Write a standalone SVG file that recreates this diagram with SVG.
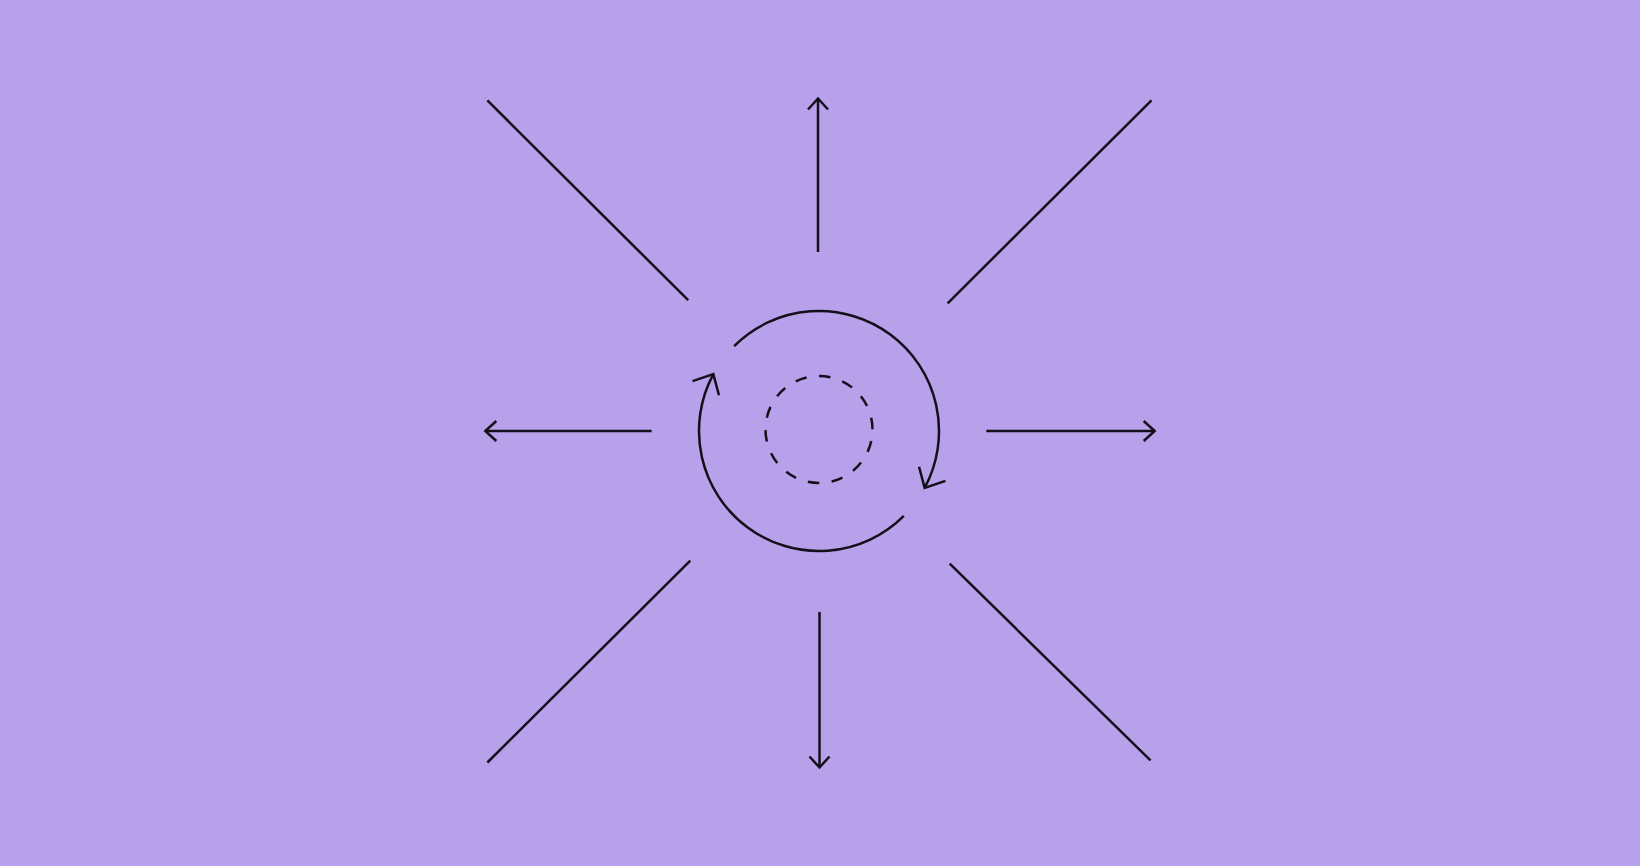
<svg xmlns="http://www.w3.org/2000/svg" width="1640" height="866" viewBox="0 0 1640 866">
  <style>
    .ln { fill: none; stroke: #141019; stroke-width: 2.5; stroke-linecap: butt; stroke-linejoin: miter; }
  </style>
  <defs>
    <marker id="head" markerUnits="userSpaceOnUse" viewBox="-14 -12 16 24" refX="0" refY="0" markerWidth="16" markerHeight="24" orient="auto" overflow="visible">
      <path d="M -11 -10 L 0 0 L -11 10" fill="none" stroke="#141019" stroke-width="2.5"/>
    </marker>
    <marker id="headArc" markerUnits="userSpaceOnUse" viewBox="-20 -20 22 40" refX="0" refY="0" markerWidth="22" markerHeight="40" orient="auto" overflow="visible">
      <path d="M -16 -15 L 0 0 L -16 15" fill="none" stroke="#141019" stroke-width="2.5"/>
    </marker>
  </defs>
  <rect id="background" x="0" y="0" width="1640" height="866" fill="#b8a0ea"/>
  <g id="connectors">
    <line class="ln" x1="688.2" y1="300.2" x2="487.4" y2="100.4"/>
    <line class="ln" x1="818" y1="252" x2="818" y2="98.5" marker-end="url(#head)"/>
    <line class="ln" x1="947.6" y1="303.3" x2="1151.5" y2="100.4"/>
    <line class="ln" x1="651.6" y1="431" x2="485.3" y2="431" marker-end="url(#head)"/>
    <line class="ln" x1="986.3" y1="431" x2="1154.7" y2="431" marker-end="url(#head)"/>
    <line class="ln" x1="690.3" y1="560.6" x2="487.4" y2="762.5"/>
    <line class="ln" x1="819.5" y1="611.9" x2="819.5" y2="767.5" marker-end="url(#head)"/>
    <line class="ln" x1="949.7" y1="563.7" x2="1150.5" y2="760.4"/>
  </g>
  <g id="cycle">
    <path class="ln" d="M 734.15 346.15 A 120 120 0 0 1 924.66 487.9" marker-end="url(#headArc)"/>
    <path class="ln" d="M 903.85 515.85 A 120 120 0 0 1 713.34 374.1" marker-end="url(#headArc)"/>
  </g>
  <g id="core">
    <circle class="ln" cx="819" cy="429.5" r="53.5" stroke-dasharray="11.5 12.51" stroke-dashoffset="-11.6"/>
  </g>
</svg>
